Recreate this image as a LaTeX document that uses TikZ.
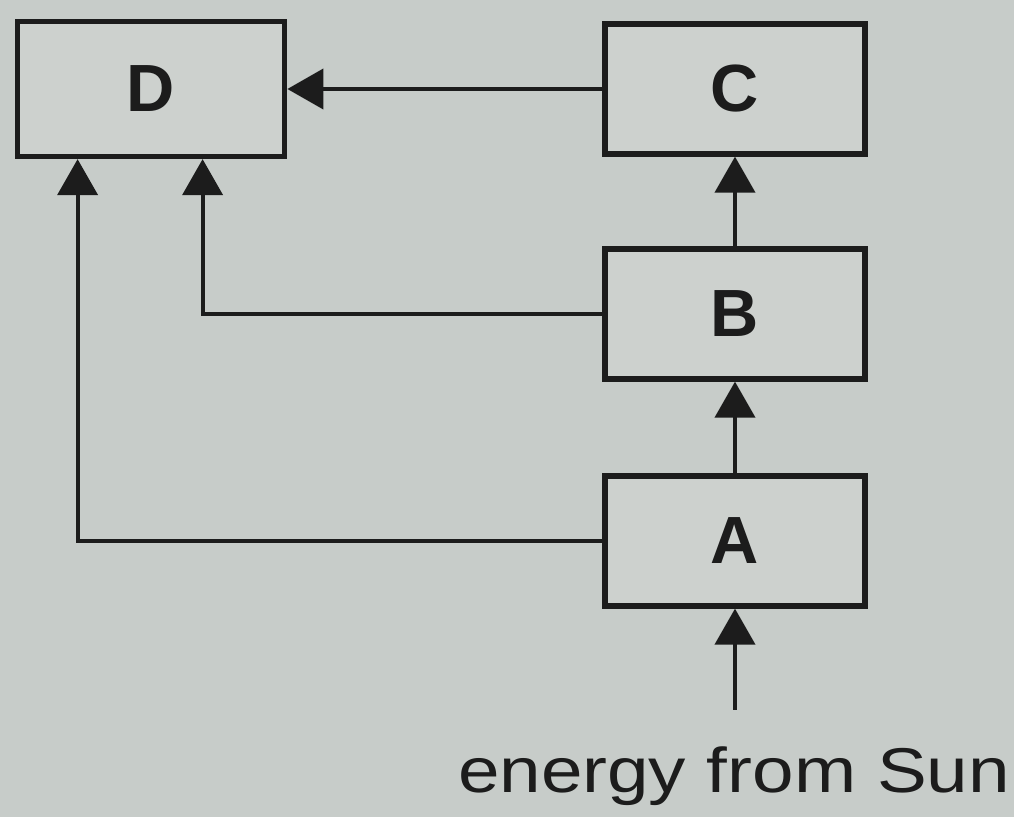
\documentclass[tikz,border=0pt]{standalone}
\usepackage{fontspec}
\setmainfont{Liberation Sans}
\usetikzlibrary{arrows.meta,positioning,calc}
\definecolor{paper}{RGB}{199,204,201}
\definecolor{boxfill}{RGB}{205,209,206}
\definecolor{ink}{RGB}{28,28,28}

\begin{document}
\begin{tikzpicture}[
    box/.style={draw=ink, line width=3pt, fill=boxfill, minimum width=5.2cm,
      minimum height=2.6cm, font=\fontsize{38}{44}\selectfont\bfseries, text=ink},
    arr/.style={-{Triangle[length=0.72cm, width=0.8cm]}, line width=2.3pt, draw=ink},
  ]

  % Page
  \fill[paper] (0,0) rectangle (20.28,16.34);
  \useasboundingbox (0,0) rectangle (20.28,16.34);

  % Boxes
  \node[box, minimum width=5.35cm, minimum height=2.7cm] (D) at (3.02,14.56) {D};
  \node[box] (C) at (14.7,14.56) {C};
  \node[box] (B) at (14.7,10.06) {B};
  \node[box] (A) at (14.7,5.52) {A};

  % Energy input
  \coordinate (sun) at (14.7,2.14);
  \node[font=\fontsize{36}{42}\selectfont, text=ink, anchor=base,
        xscale=1.18, transform shape] (energy)
    at (14.68,0.48) {energy from Sun};

  % Connectors
  \draw[arr] (sun) -- (A.south);
  \draw[arr] (A.north) -- (B.south);
  \draw[arr] (B.north) -- (C.south);
  \draw[arr] (C.west) -- (D.east);
  \draw[arr] (B.west) -| ([xshift=3.76cm]D.south west);
  \draw[arr] (A.west) -| ([xshift=1.26cm]D.south west);

\end{tikzpicture}
\end{document}
